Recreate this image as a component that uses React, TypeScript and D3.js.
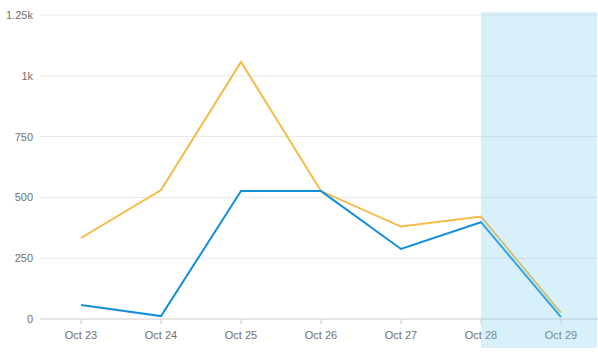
import { useMemo } from "react";
import * as d3 from "d3";

const WIDTH = 598;
const HEIGHT = 353;
const MARGIN = { top: 15, right: 0, bottom: 34, left: 40 };

const days = ["Oct 23", "Oct 24", "Oct 25", "Oct 26", "Oct 27", "Oct 28", "Oct 29"];
const totalSeries = [333, 530, 1057, 526, 380, 421, 25];
const partSeries = [58, 12, 526, 526, 288, 398, 8];
const yTicks = [0, 250, 500, 750, 1000, 1250];
const highlightFrom = "Oct 28";

const FONT = "'Liberation Sans', Arial, sans-serif";
const TEXT_COLOR = "#707070";

const fmt = (v: number) => (v >= 1000 ? `${v / 1000}k` : `${v}`);

export default function App() {
  const boundsWidth = WIDTH - MARGIN.left - MARGIN.right;
  const boundsHeight = HEIGHT - MARGIN.top - MARGIN.bottom;

  // categories sit 80px apart, first one half a step in from the axis
  const xScale = useMemo(
    () => d3.scalePoint().domain(days).range([1, 561]).padding(0.5),
    []
  );
  const yScale = useMemo(
    () => d3.scaleLinear().domain([0, 1250]).range([boundsHeight, 0]),
    [boundsHeight]
  );

  const line = d3
    .line<number>()
    .x((_, i) => xScale(days[i]) as number)
    .y((d) => yScale(d));

  const hx = xScale(highlightFrom) as number;

  return (
    <svg width={WIDTH} height={HEIGHT} style={{ position: "absolute", left: 0, top: 0 }}>
      <g transform={`translate(${MARGIN.left},${MARGIN.top})`}>
        {yTicks.map((t) => (
          <g key={t}>
            {t > 0 && (
              <line x1={0} x2={boundsWidth} y1={yScale(t)} y2={yScale(t)} stroke="#e8e8e8" />
            )}
            <text
              x={-7}
              y={yScale(t)}
              textAnchor="end"
              dominantBaseline="central"
              fontSize={11}
              fontFamily={FONT}
              fill={TEXT_COLOR}
            >
              {fmt(t)}
            </text>
          </g>
        ))}
        <line x1={0} x2={boundsWidth} y1={boundsHeight} y2={boundsHeight} stroke="#ccc" />
        {days.map((d) => (
          <g key={d} transform={`translate(${xScale(d)},0)`}>
            <line y1={boundsHeight} y2={boundsHeight + 5} stroke="#ccc" />
            <text
              y={boundsHeight + 16}
              textAnchor="middle"
              dominantBaseline="central"
              fontSize={11}
              fontFamily={FONT}
              fill={TEXT_COLOR}
            >
              {d}
            </text>
          </g>
        ))}
        <path d={line(totalSeries) ?? ""} fill="none" stroke="#f5bb45" strokeWidth={2} />
        <path d={line(partSeries) ?? ""} fill="none" stroke="#1590d8" strokeWidth={2} />
        <rect
          x={hx}
          y={-3}
          width={boundsWidth - hx - 1}
          height={boundsHeight + 32}
          fill="#7fd0f0"
          opacity={0.31}
        />
      </g>
    </svg>
  );
}
